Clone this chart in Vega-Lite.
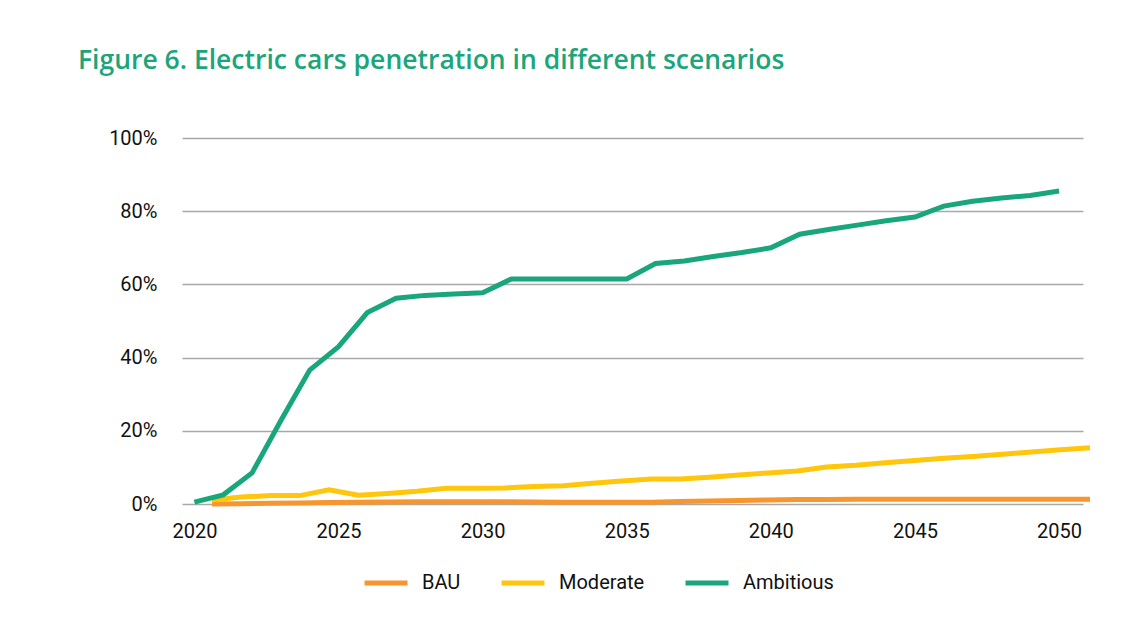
{
  "$schema": "https://vega.github.io/schema/vega-lite/v6.json",
  "width": 901,
  "height": 366,
  "autosize": {"type": "none"},
  "padding": {"left": 182, "top": 138, "right": 64, "bottom": 133},
  "background": "white",
  "title": {
    "text": "Figure 6. Electric cars penetration in different scenarios",
    "anchor": "start",
    "frame": "group",
    "dx": -104,
    "offset": 54,
    "font": "Open Sans",
    "fontSize": 26.5,
    "fontWeight": 600,
    "color": "#1BA57B"
  },
  "datasets": {
    "slow": [
      {"year": 2020, "scenario": "BAU", "share": 0.0},
      {"year": 2021, "scenario": "BAU", "share": 0.001},
      {"year": 2022, "scenario": "BAU", "share": 0.002},
      {"year": 2023, "scenario": "BAU", "share": 0.003},
      {"year": 2024, "scenario": "BAU", "share": 0.004},
      {"year": 2025, "scenario": "BAU", "share": 0.005},
      {"year": 2026, "scenario": "BAU", "share": 0.0055},
      {"year": 2027, "scenario": "BAU", "share": 0.006},
      {"year": 2028, "scenario": "BAU", "share": 0.006},
      {"year": 2029, "scenario": "BAU", "share": 0.006},
      {"year": 2030, "scenario": "BAU", "share": 0.006},
      {"year": 2031, "scenario": "BAU", "share": 0.0055},
      {"year": 2032, "scenario": "BAU", "share": 0.005},
      {"year": 2033, "scenario": "BAU", "share": 0.005},
      {"year": 2034, "scenario": "BAU", "share": 0.0045},
      {"year": 2035, "scenario": "BAU", "share": 0.005},
      {"year": 2036, "scenario": "BAU", "share": 0.0065},
      {"year": 2037, "scenario": "BAU", "share": 0.008},
      {"year": 2038, "scenario": "BAU", "share": 0.0095},
      {"year": 2039, "scenario": "BAU", "share": 0.011},
      {"year": 2040, "scenario": "BAU", "share": 0.012},
      {"year": 2041, "scenario": "BAU", "share": 0.0125},
      {"year": 2042, "scenario": "BAU", "share": 0.013},
      {"year": 2043, "scenario": "BAU", "share": 0.013},
      {"year": 2044, "scenario": "BAU", "share": 0.013},
      {"year": 2045, "scenario": "BAU", "share": 0.013},
      {"year": 2046, "scenario": "BAU", "share": 0.013},
      {"year": 2047, "scenario": "BAU", "share": 0.013},
      {"year": 2048, "scenario": "BAU", "share": 0.013},
      {"year": 2049, "scenario": "BAU", "share": 0.013},
      {"year": 2050, "scenario": "BAU", "share": 0.013},
      {"year": 2020, "scenario": "Moderate", "share": 0.011},
      {"year": 2021, "scenario": "Moderate", "share": 0.019},
      {"year": 2022, "scenario": "Moderate", "share": 0.023},
      {"year": 2023, "scenario": "Moderate", "share": 0.023},
      {"year": 2024, "scenario": "Moderate", "share": 0.039},
      {"year": 2025, "scenario": "Moderate", "share": 0.024},
      {"year": 2026, "scenario": "Moderate", "share": 0.029},
      {"year": 2027, "scenario": "Moderate", "share": 0.035},
      {"year": 2028, "scenario": "Moderate", "share": 0.043},
      {"year": 2029, "scenario": "Moderate", "share": 0.043},
      {"year": 2030, "scenario": "Moderate", "share": 0.044},
      {"year": 2031, "scenario": "Moderate", "share": 0.048},
      {"year": 2032, "scenario": "Moderate", "share": 0.05},
      {"year": 2033, "scenario": "Moderate", "share": 0.057},
      {"year": 2034, "scenario": "Moderate", "share": 0.063},
      {"year": 2035, "scenario": "Moderate", "share": 0.068},
      {"year": 2036, "scenario": "Moderate", "share": 0.068},
      {"year": 2037, "scenario": "Moderate", "share": 0.073},
      {"year": 2038, "scenario": "Moderate", "share": 0.079},
      {"year": 2039, "scenario": "Moderate", "share": 0.085},
      {"year": 2040, "scenario": "Moderate", "share": 0.09},
      {"year": 2041, "scenario": "Moderate", "share": 0.101},
      {"year": 2042, "scenario": "Moderate", "share": 0.106},
      {"year": 2043, "scenario": "Moderate", "share": 0.113},
      {"year": 2044, "scenario": "Moderate", "share": 0.119},
      {"year": 2045, "scenario": "Moderate", "share": 0.125},
      {"year": 2046, "scenario": "Moderate", "share": 0.13},
      {"year": 2047, "scenario": "Moderate", "share": 0.136},
      {"year": 2048, "scenario": "Moderate", "share": 0.142},
      {"year": 2049, "scenario": "Moderate", "share": 0.148},
      {"year": 2050, "scenario": "Moderate", "share": 0.154}
    ],
    "fast": [
      {"year": 2020, "scenario": "Ambitious", "share": 0.005},
      {"year": 2021, "scenario": "Ambitious", "share": 0.025},
      {"year": 2022, "scenario": "Ambitious", "share": 0.085},
      {"year": 2023, "scenario": "Ambitious", "share": 0.228},
      {"year": 2024, "scenario": "Ambitious", "share": 0.366},
      {"year": 2025, "scenario": "Ambitious", "share": 0.43},
      {"year": 2026, "scenario": "Ambitious", "share": 0.523},
      {"year": 2027, "scenario": "Ambitious", "share": 0.562},
      {"year": 2028, "scenario": "Ambitious", "share": 0.57},
      {"year": 2029, "scenario": "Ambitious", "share": 0.574},
      {"year": 2030, "scenario": "Ambitious", "share": 0.577},
      {"year": 2031, "scenario": "Ambitious", "share": 0.615},
      {"year": 2032, "scenario": "Ambitious", "share": 0.615},
      {"year": 2033, "scenario": "Ambitious", "share": 0.615},
      {"year": 2034, "scenario": "Ambitious", "share": 0.615},
      {"year": 2035, "scenario": "Ambitious", "share": 0.615},
      {"year": 2036, "scenario": "Ambitious", "share": 0.657},
      {"year": 2037, "scenario": "Ambitious", "share": 0.664},
      {"year": 2038, "scenario": "Ambitious", "share": 0.676},
      {"year": 2039, "scenario": "Ambitious", "share": 0.687},
      {"year": 2040, "scenario": "Ambitious", "share": 0.7},
      {"year": 2041, "scenario": "Ambitious", "share": 0.737},
      {"year": 2042, "scenario": "Ambitious", "share": 0.75},
      {"year": 2043, "scenario": "Ambitious", "share": 0.762},
      {"year": 2044, "scenario": "Ambitious", "share": 0.774},
      {"year": 2045, "scenario": "Ambitious", "share": 0.784},
      {"year": 2046, "scenario": "Ambitious", "share": 0.814},
      {"year": 2047, "scenario": "Ambitious", "share": 0.827},
      {"year": 2048, "scenario": "Ambitious", "share": 0.836},
      {"year": 2049, "scenario": "Ambitious", "share": 0.843},
      {"year": 2050, "scenario": "Ambitious", "share": 0.855}
    ]
  },
  "layer": [
    {
      "data": {"name": "slow"},
      "mark": {"type": "line", "strokeWidth": 5, "clip": false},
      "encoding": {
        "x": {
          "field": "year",
          "type": "quantitative",
          "scale": {"domain": [2018.974, 2049.761], "nice": false, "zero": false},
          "axis": null
        },
        "y": {
          "field": "share",
          "type": "quantitative",
          "scale": {"domain": [0, 1], "nice": false},
          "axis": {
            "values": [0, 0.2, 0.4, 0.6, 0.8, 1],
            "format": ".0%",
            "title": null,
            "domain": false,
            "ticks": false,
            "grid": true,
            "gridColor": "#A9A9A9",
            "gridWidth": 1.5,
            "labelFont": "Roboto",
            "labelFontSize": 20,
            "labelColor": "#111111",
            "labelPadding": 25
          }
        },
        "color": {
          "field": "scenario",
          "type": "nominal",
          "scale": {"domain": ["BAU", "Moderate", "Ambitious"], "range": ["#F7962F", "#FFC60B", "#1AA67C"]},
          "legend": {
            "title": null,
            "orient": "none",
            "direction": "horizontal",
            "legendX": 180,
            "legendY": 421,
            "symbolType": "stroke",
            "symbolSize": 1849,
            "symbolStrokeWidth": 5,
            "labelFont": "Roboto",
            "labelFontSize": 20,
            "labelColor": "#111111",
            "labelOffset": 12,
            "columnPadding": 30,
            "padding": 0
          }
        }
      }
    },
    {
      "data": {"name": "fast"},
      "mark": {"type": "line", "strokeWidth": 5, "clip": false},
      "encoding": {
        "x": {
          "field": "year",
          "type": "quantitative",
          "scale": {"domain": [2019.57, 2050.83], "nice": false, "zero": false},
          "axis": {
            "values": [2020, 2025, 2030, 2035, 2040, 2045, 2050],
            "format": "d",
            "title": null,
            "domain": false,
            "ticks": false,
            "grid": false,
            "labelFont": "Roboto",
            "labelFontSize": 20,
            "labelColor": "#111111",
            "labelPadding": 17
          }
        },
        "y": {"field": "share", "type": "quantitative", "scale": {"domain": [0, 1], "nice": false}},
        "color": {
          "field": "scenario",
          "type": "nominal",
          "scale": {"domain": ["BAU", "Moderate", "Ambitious"], "range": ["#F7962F", "#FFC60B", "#1AA67C"]}
        }
      }
    }
  ],
  "resolve": {"scale": {"x": "independent"}},
  "config": {"view": {"stroke": null}}
}
